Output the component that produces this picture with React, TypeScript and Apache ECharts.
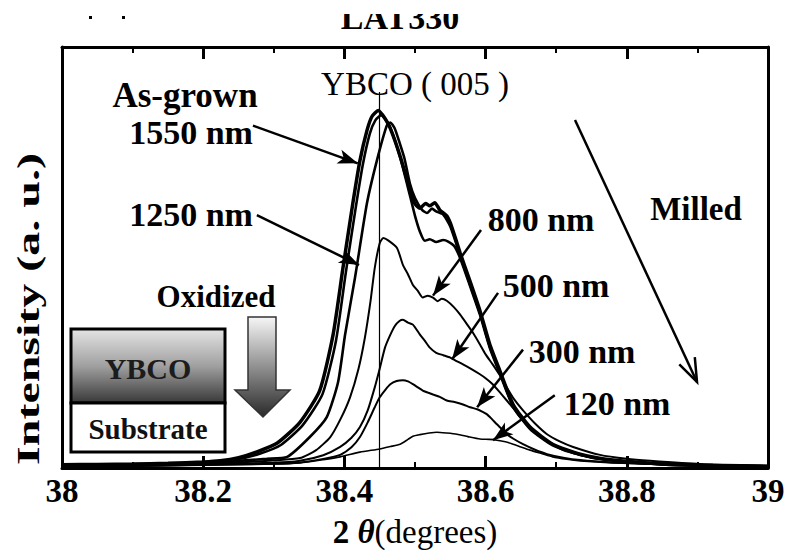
import React, { useEffect, useRef } from "react";
import * as echarts from "echarts";

type P = [number, number];

const asGrown: P[] = [[38.00,0.8],[38.05,0.9],[38.10,1.0],[38.15,1.2],[38.20,1.5],[38.224,1.8],[38.25,2.6],[38.275,4.0],[38.305,6.3],[38.337,11.5],[38.365,19.5],[38.384,33.6],[38.398,50.4],[38.412,66.7],[38.422,77.4],[38.432,85.0],[38.439,88.5],[38.448,90.0],[38.4575,88.0],[38.465,85.5],[38.479,78.5],[38.493,70.0],[38.50,66.5],[38.507,65.4],[38.515,66.6],[38.521,66.0],[38.528,66.8],[38.535,65.0],[38.545,63.5],[38.55,61.7],[38.557,58.0],[38.564,54.1],[38.578,47.0],[38.592,39.6],[38.606,31.1],[38.62,24.6],[38.639,16.0],[38.663,10.3],[38.695,6.0],[38.734,3.5],[38.78,2.0],[38.85,1.0],[38.922,0.6],[39.0,0.4]];

const nm1550: P[] = [[38.00,0.7],[38.05,0.8],[38.10,0.9],[38.15,1.1],[38.20,1.4],[38.25,2.3],[38.28,3.6],[38.31,5.8],[38.341,10.8],[38.369,18.6],[38.388,32.0],[38.402,49.2],[38.416,65.5],[38.426,76.3],[38.436,84.2],[38.444,87.6],[38.452,88.8],[38.46,87.4],[38.468,84.3],[38.48,77.5],[38.493,68.5],[38.50,63.5],[38.507,59.5],[38.514,57.2],[38.521,57.6],[38.53,56.9],[38.54,57.4],[38.547,57.0],[38.556,55.8],[38.564,52.8],[38.578,45.8],[38.592,38.6],[38.606,30.2],[38.62,23.8],[38.639,15.4],[38.663,9.8],[38.695,5.7],[38.734,3.3],[38.78,1.9],[38.85,0.9],[38.922,0.5],[39.0,0.35]];

const nm1250: P[] = [[38.00,0.6],[38.05,0.7],[38.10,0.8],[38.15,1.0],[38.20,1.3],[38.25,1.8],[38.29,2.3],[38.319,2.8],[38.351,7.8],[38.375,12.8],[38.391,21.6],[38.401,33.6],[38.415,47.9],[38.432,66.7],[38.446,77.4],[38.46,86.2],[38.465,87.0],[38.471,85.6],[38.478,82.0],[38.485,78.0],[38.493,71.5],[38.50,68.0],[38.51,65.0],[38.517,64.2],[38.524,65.3],[38.53,64.6],[38.54,63.8],[38.55,60.8],[38.564,53.5],[38.578,46.2],[38.592,39.0],[38.606,30.6],[38.62,24.2],[38.639,15.7],[38.663,10.0],[38.695,5.9],[38.734,3.4],[38.78,1.95],[38.85,0.95],[38.922,0.55],[39.0,0.35]];

const nm800: P[] = [[38.00,0.5],[38.10,0.7],[38.20,1.1],[38.25,1.4],[38.30,1.9],[38.337,2.5],[38.36,4.5],[38.38,7.8],[38.395,12.5],[38.408,17.8],[38.42,25],[38.429,32.8],[38.437,42],[38.443,50.4],[38.45,56.6],[38.455,57.9],[38.462,57.3],[38.4745,55.4],[38.483,51.1],[38.49,48.8],[38.497,46.1],[38.504,44.6],[38.511,42.9],[38.518,43.4],[38.5255,42.9],[38.532,42.0],[38.538,42.6],[38.545,42.1],[38.555,40.5],[38.564,38.6],[38.574,36.1],[38.583,33.8],[38.592,31.1],[38.60,28.6],[38.61,26.1],[38.62,23.4],[38.63,20.3],[38.64,17.4],[38.653,14.5],[38.67,11.2],[38.687,8.5],[38.705,6.7],[38.724,5.3],[38.762,3.3],[38.80,2.3],[38.833,1.8],[38.904,1.0],[39.0,0.6]];

const nm500: P[] = [[38.00,0.4],[38.10,0.6],[38.20,0.9],[38.30,1.3],[38.337,1.8],[38.37,3.2],[38.394,5.3],[38.41,7.6],[38.422,10.3],[38.433,14.5],[38.443,20.3],[38.45,25],[38.4575,30.3],[38.465,33.5],[38.4717,35.8],[38.478,37.0],[38.483,37.3],[38.49,36.6],[38.497,36.1],[38.507,33.6],[38.514,32.0],[38.521,30.3],[38.53,29.0],[38.54,28.4],[38.55,27.8],[38.558,27.0],[38.568,26.1],[38.58,24.9],[38.592,23.6],[38.60,22.6],[38.61,21.1],[38.62,19.1],[38.63,17.0],[38.64,14.9],[38.649,12.8],[38.66,10.6],[38.673,8.5],[38.69,6.5],[38.7096,4.5],[38.735,3.2],[38.758,2.3],[38.80,1.7],[38.833,1.3],[38.922,0.75],[39.0,0.5]];

const nm300: P[] = [[38.00,0.35],[38.10,0.5],[38.20,0.8],[38.30,1.1],[38.337,1.4],[38.37,2.3],[38.394,3.3],[38.41,5.2],[38.422,7.8],[38.433,11.5],[38.443,15.3],[38.45,17.8],[38.458,19.7],[38.465,21.1],[38.474,21.9],[38.483,22.1],[38.49,21.8],[38.497,21.1],[38.504,20.3],[38.511,19.5],[38.518,19.0],[38.5255,18.5],[38.535,17.9],[38.545,17.0],[38.556,16.6],[38.568,16.0],[38.578,15.3],[38.588,14.8],[38.595,14.2],[38.602,13.5],[38.609,12.3],[38.616,11.0],[38.623,9.8],[38.63,8.5],[38.64,7.3],[38.653,6.0],[38.67,4.6],[38.687,3.5],[38.71,2.6],[38.734,2.0],[38.78,1.4],[38.833,1.0],[38.92,0.65],[39.0,0.45]];

const nm120: P[] = [[38.00,0.3],[38.10,0.45],[38.20,0.7],[38.30,1.0],[38.337,1.3],[38.37,2.1],[38.394,2.8],[38.422,4.0],[38.45,4.8],[38.465,5.4],[38.479,6.0],[38.49,7.2],[38.497,8.0],[38.507,8.4],[38.52,8.8],[38.531,9.0],[38.545,8.8],[38.5595,8.5],[38.575,7.9],[38.592,7.3],[38.605,7.2],[38.616,7.0],[38.628,6.6],[38.639,6.0],[38.65,5.3],[38.663,4.5],[38.68,3.6],[38.695,2.8],[38.715,2.2],[38.734,1.8],[38.78,1.3],[38.833,1.0],[38.92,0.6],[39.0,0.4]];

// annotation arrows in data coordinates: [x1, y1, x2, y2]
const arrowSegments: [number, number, number, number][] = [
  [38.2705, 86.2, 38.419, 76.7],
  [38.276, 63.7, 38.4207, 51.1],
  [38.5935, 59.9, 38.5255, 43.4],
  [38.6176, 44.1, 38.5524, 27.3],
  [38.653, 29.8, 38.588, 15.3],
  [38.698, 18.3, 38.6105, 7.0],
];
const peakPosition = 38.45;
const peakLineTop = 94.7;

const FONT = "Liberation Serif";

const seriesDefs = [
  { name: "As-grown", data: asGrown, width: 3.5 },
  { name: "1550 nm", data: nm1550, width: 2.6 },
  { name: "1250 nm", data: nm1250, width: 2.6 },
  { name: "800 nm", data: nm800, width: 2 },
  { name: "500 nm", data: nm500, width: 2 },
  { name: "300 nm", data: nm300, width: 2 },
  { name: "120 nm", data: nm120, width: 1.6 },
];

function label(text: string, x: number, y: number, size = 34, weight = "bold") {
  return {
    type: "text",
    x,
    y,
    z: 20,
    style: {
      text,
      fill: "#000",
      fontFamily: FONT,
      fontWeight: weight,
      fontSize: size,
      lineHeight: size,
      align: "center",
      verticalAlign: "middle",
    },
  };
}

export default function App() {
  const ref = useRef<HTMLDivElement>(null);
  useEffect(() => {
    if (!ref.current) return;
    const chart = echarts.init(ref.current, undefined, { renderer: "svg" });

    const axisCommon = {
      type: "value",
      min: 38,
      max: 39,
      interval: 0.2,
      axisLine: { show: true, onZero: false, lineStyle: { color: "#000", width: 3 } },
      axisTick: { show: true, inside: true, length: 12, lineStyle: { color: "#000", width: 3 } },
      minorTick: { show: true, splitNumber: 2, length: 6, lineStyle: { color: "#000", width: 2 } },
      splitLine: { show: false },
    };
    const yCommon = {
      type: "value",
      min: 0,
      max: 106,
      axisLine: { show: true, onZero: false, lineStyle: { color: "#000", width: 3 } },
      axisTick: { show: false },
      axisLabel: { show: false },
      splitLine: { show: false },
    };

    const series: any[] = seriesDefs.map((s) => ({
      name: s.name,
      type: "line",
      data: s.data,
      showSymbol: false,
      smooth: 0.2,
      lineStyle: { color: "#000", width: s.width },
      z: 3,
    }));

    series[3].markLine = {
      silent: true,
      symbol: "none",
      label: { show: false },
      lineStyle: { color: "#000", width: 1.2, type: "solid" },
      data: [[{ coord: [peakPosition, 0] }, { coord: [peakPosition, peakLineTop] }]],
    };
    series[6].markLine = {
      silent: true,
      symbol: ["none", "arrow"],
      symbolSize: [11, 20],
      label: { show: false },
      lineStyle: { color: "#000", width: 2.5, type: "solid" },
      data: arrowSegments.map(([x1, y1, x2, y2]) => [
        { coord: [x1, y1] },
        { coord: [x2, y2] },
      ]),
    };

    const ybcoGrad = {
      type: "linear", x: 0, y: 0, x2: 0, y2: 1,
      colorStops: [
        { offset: 0, color: "#e4e4e4" },
        { offset: 0.5, color: "#a0a0a0" },
        { offset: 1, color: "#383838" },
      ],
    };
    const arrowGrad = {
      type: "linear", x: 0, y: 0, x2: 0, y2: 1,
      colorStops: [
        { offset: 0, color: "#f6f6f6" },
        { offset: 1, color: "#2a2a2a" },
      ],
    };

    const option: any = {
      animation: false,
      backgroundColor: "#ffffff",
      grid: { left: 62, right: 22, top: 47, bottom: 82 },
      xAxis: [
        {
          ...axisCommon,
          position: "bottom",
          axisLabel: {
            show: true,
            margin: 6,
            fontFamily: FONT,
            fontWeight: "bold",
            fontSize: 33,
            color: "#000",
            formatter: (v: number) => String(+v.toFixed(1)),
          },
          name: "{b|2} {t|θ}{r|(degrees)}",
          nameLocation: "middle",
          nameGap: 47,
          nameTextStyle: {
            fontFamily: FONT,
            fontSize: 33,
            color: "#000",
            rich: {
              b: { fontFamily: FONT, fontSize: 33, fontWeight: "bold", color: "#000" },
              t: { fontFamily: FONT, fontSize: 33, fontWeight: "bold", fontStyle: "italic", color: "#000" },
              r: { fontFamily: FONT, fontSize: 33, fontWeight: "normal", color: "#000" },
            },
          },
        },
        {
          ...axisCommon,
          position: "top",
          axisLabel: { show: false },
        },
      ],
      yAxis: [
        { ...yCommon, position: "left" },
        { ...yCommon, position: "right" },
      ],
      series,
      graphic: [
        { type: "text", x: 400, y: 34, z: 5, style: { text: "LAT330", fill: "#000", fontFamily: FONT, fontWeight: "bold", fontSize: 34, align: "center", verticalAlign: "bottom" } },
        { type: "rect", z: 6, shape: { x: 0, y: 0, width: 790, height: 14 }, style: { fill: "#ffffff" } },
        { type: "rect", z: 6, shape: { x: 89, y: 16, width: 3, height: 3 }, style: { fill: "#000" } },
        { type: "rect", z: 6, shape: { x: 122, y: 16, width: 3, height: 3 }, style: { fill: "#000" } },
        {
          type: "text", x: 28, y: 309, rotation: Math.PI / 2, scaleX: 1.5, z: 20,
          style: { text: "Intensity (a. u.)", fill: "#000", fontFamily: FONT, fontWeight: "bold", fontSize: 32, align: "center", verticalAlign: "middle" },
        },
        label("YBCO ( 005 )", 415, 84, 33, "normal"),
        label("As-grown", 185, 95, 35),
        label("1550 nm", 191, 132),
        label("1250 nm", 191, 214),
        label("800 nm", 541, 219),
        label("500 nm", 556, 285),
        label("300 nm", 582, 351),
        label("120 nm", 617, 403),
        label("Milled", 696, 209, 33),
        label("Oxidized", 216, 296, 31),
        { type: "rect", z: 10, shape: { x: 71, y: 329, width: 154, height: 74 }, style: { fill: ybcoGrad, stroke: "#000", lineWidth: 3 } },
        { type: "rect", z: 10, shape: { x: 71, y: 403, width: 154, height: 49 }, style: { fill: "#ffffff", stroke: "#000", lineWidth: 3 } },
        { type: "text", x: 148, y: 368, z: 21, style: { text: "YBCO", fill: "#1c1c1c", fontFamily: FONT, fontWeight: "bold", fontSize: 30, align: "center", verticalAlign: "middle" } },
        { type: "text", x: 148, y: 429, z: 21, style: { text: "Substrate", fill: "#111", fontFamily: FONT, fontWeight: "bold", fontSize: 29, align: "center", verticalAlign: "middle" } },
        {
          type: "polygon", z: 10,
          shape: { points: [[248, 317], [276, 317], [276, 390], [290, 390], [263, 417], [235, 390], [248, 390]] },
          style: { fill: arrowGrad, stroke: "#333", lineWidth: 1.5 },
        },
        { type: "line", z: 10, shape: { x1: 575, y1: 120, x2: 697, y2: 382 }, style: { stroke: "#000", lineWidth: 2.5 } },
        { type: "polyline", z: 10, shape: { points: [[679.3, 364.3], [697, 382], [694.8, 357.1]] }, style: { stroke: "#000", lineWidth: 2.5, fill: null } },
      ],
    };

    chart.setOption(option);
    return () => chart.dispose();
  }, []);

  return (
    <div
      ref={ref}
      style={{ position: "fixed", left: 0, top: 0, width: 790, height: 553, background: "#fff" }}
    />
  );
}
